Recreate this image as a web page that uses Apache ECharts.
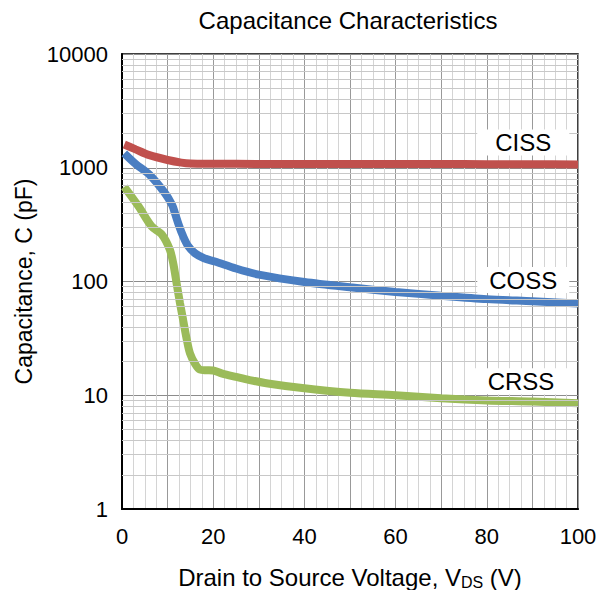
<!DOCTYPE html>
<html>
<head>
<meta charset="utf-8">
<script src="https://cdn.jsdelivr.net/npm/echarts@6/dist/echarts.min.js"></script>
<style>html,body{margin:0;padding:0;background:#fff;}#c{width:598px;height:590px;}</style>
</head>
<body>
<div id="c"></div>
<script>
// ---- data ----
var cissV = [0.5, 3, 6, 10, 13, 15, 20, 30, 40, 50, 60, 70, 80, 90, 100];
var cissC = [1600, 1450, 1290, 1170, 1110, 1090, 1085, 1080, 1080, 1080, 1080, 1078, 1075, 1072, 1070];

var cossV = [0.5, 3, 6, 9.4, 11, 11.6, 12.5, 13.4, 14.5, 16, 18, 20.4, 25, 30, 40, 50, 60, 70, 80, 90, 100];
var cossC = [1340, 1080, 870, 600, 470, 400, 310, 250, 205, 177, 160, 150, 130, 115, 99, 89, 81, 75, 70, 67, 64];

var crssV = [0.5, 3.6, 6.5, 8.7, 10.5, 11.3, 12, 12.7, 13.4, 14.2, 14.9, 16, 17.1, 18.5, 20, 22, 25, 28, 32, 40, 50, 60, 70, 80, 90, 100];
var crssC = [680, 460, 305, 260, 190, 140, 95, 65, 46, 31, 23.4, 19, 16.8, 16.6, 16.5, 15.5, 14.5, 13.6, 12.7, 11.5, 10.5, 10, 9.4, 9, 8.8, 8.5];

var yMinorLines = [2,3,4,5,6,7,8,9,20,30,40,50,60,70,80,90,200,300,400,500,600,700,800,900,2000,3000,4000,5000,6000,7000,8000,9000];

var labelNames = ['CISS', 'COSS', 'CRSS'];
var labelV = [88, 88, 87.5];
var labelC = [1670, 103, 13.3];

// ---- build ----
function pairs(xs, ys) { return xs.map(function (x, i) { return [x, ys[i]]; }); }
var FONT = '"Liberation Sans", Arial, sans-serif';

function curve(name, xs, ys, color, idx) {
  return {
    name: name, type: 'line', z: 3,
    data: pairs(xs, ys),
    smooth: 0.3,
    showSymbol: false, symbol: 'none',
    lineStyle: { color: color, width: 8, type: 'solid' },
    emphasis: { disabled: true },
    markPoint: {
      silent: true,
      symbol: 'rect', symbolSize: [92, 26],
      itemStyle: { color: '#ffffff' },
      label: { show: true, position: 'inside', color: '#000', fontSize: 24, fontFamily: FONT, formatter: labelNames[idx] },
      data: [{ coord: [labelV[idx], labelC[idx]] }]
    }
  };
}

var chart = echarts.init(document.getElementById('c'), null, { renderer: 'svg' });
chart.setOption({
  animation: false,
  backgroundColor: '#ffffff',
  title: {
    text: 'Capacitance Characteristics',
    left: 343, top: 3, textAlign: 'center',
    textStyle: { fontFamily: FONT, fontSize: 24, fontWeight: 'normal', color: '#000' }
  },
  grid: { left: 122, right: 20, top: 54, bottom: 81, outerBoundsMode: 'none', containLabel: false,
          show: true, borderColor: '#000', borderWidth: 1.5, backgroundColor: 'transparent' },
  xAxis: {
    type: 'value', min: 0, max: 100, interval: 10,
    name: '{a|Drain to Source Voltage, V}{s|DS}{a| (V)}',
    nameLocation: 'middle', nameGap: 55,
    nameTextStyle: {
      rich: {
        a: { fontFamily: FONT, fontSize: 24, color: '#000' },
        s: { fontFamily: FONT, fontSize: 16, color: '#000', padding: [10, 0, 0, 0] }
      }
    },
    axisLine: { show: true, lineStyle: { color: '#000', width: 2 } },
    axisTick: { show: false },
    axisLabel: { fontFamily: FONT, fontSize: 22, color: '#000', margin: 16,
      formatter: function (v) { return v % 20 === 0 ? String(v) : ''; } },
    splitLine: { show: true, lineStyle: { color: '#999999', width: 1 } },
    minorTick: { show: false, splitNumber: 4 },
    minorSplitLine: { show: true, lineStyle: { color: '#d4d4d4', width: 1 } }
  },
  yAxis: {
    type: 'log', logBase: 10, min: 1, max: 10000,
    name: 'Capacitance, C (pF)',
    nameLocation: 'middle', nameGap: 86,
    nameTextStyle: { fontFamily: FONT, fontSize: 23, color: '#000' },
    axisLine: { show: true, lineStyle: { color: '#000', width: 2 } },
    axisTick: { show: false },
    axisLabel: { fontFamily: FONT, fontSize: 22, color: '#000', margin: 14,
      formatter: function (v) { return String(Math.round(v)); } },
    splitLine: { show: true, lineStyle: { color: '#8c8c8c', width: 1 } }
  },
  series: [
    {
      name: 'grid', type: 'line', data: [], z: 1, silent: true,
      markLine: {
        silent: true, symbol: 'none', animation: false,
        label: { show: false },
        lineStyle: { color: '#c8c8c8', width: 1, type: 'solid' },
        data: yMinorLines.map(function (v) { return { yAxis: v }; })
      }
    },
    curve('CISS', cissV, cissC, '#C0504D', 0),
    curve('COSS', cossV, cossC, '#4A7EC2', 1),
    curve('CRSS', crssV, crssC, '#9BBB59', 2)
  ]
});
</script>
</body>
</html>
